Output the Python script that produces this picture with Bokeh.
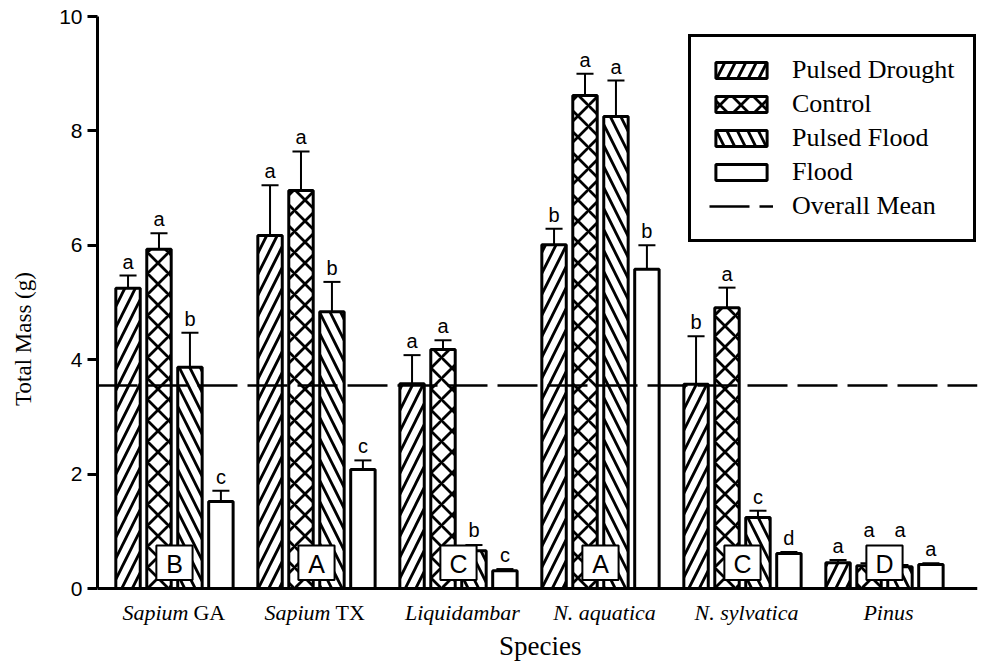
from bokeh.plotting import figure
from bokeh.models import Range1d, Legend, LegendItem, ColumnDataSource, FixedTicker, Span
from bokeh.core.properties import value
from bokeh.embed import file_html
from bokeh.resources import INLINE

# ---------------- data ----------------
species_italic = ["Sapium", "Sapium", "Liquidambar", "N. aquatica", "N. sylvatica", "Pinus"]
species_roman = ["GA", "TX", "", "", "", ""]
treatments = ["Pulsed Drought", "Control", "Pulsed Flood", "Flood"]

pulsed_drought = [5.25, 6.17, 3.58, 6.01, 3.57, 0.45]
pulsed_drought_se = [0.22, 0.88, 0.50, 0.28, 0.84, 0.05]
control = [5.93, 6.96, 4.18, 8.62, 4.91, 0.40]
control_se = [0.28, 0.68, 0.16, 0.38, 0.35, 0.04]
pulsed_flood = [3.87, 4.84, 0.66, 8.25, 1.24, 0.38]
pulsed_flood_se = [0.60, 0.52, 0.10, 0.63, 0.12, 0.03]
flood = [1.52, 2.08, 0.31, 5.58, 0.61, 0.42]
flood_se = [0.19, 0.16, 0.03, 0.42, 0.03, 0.02]

letters_pulsed_drought = ["a", "a", "a", "b", "b", "a"]
letters_control = ["a", "a", "a", "a", "a", "a"]
letters_pulsed_flood = ["b", "b", "b", "a", "c", "a"]
letters_flood = ["c", "c", "c", "b", "d", "a"]

species_groups = ["B", "A", "C", "A", "C", "D"]
overall_mean = 3.55

y_ticks = [0, 2, 4, 6, 8, 10]
x_title = "Species"
y_title = "Total Mass (g)"

# ---------------- styling ----------------
X_START, X_END = -0.542, 5.655
Y_START, Y_END = -1.276, 10
offsets = [-0.327, -0.109, 0.109, 0.327]
bar_w = 0.172
hatches = ["/", "x", "\\", " "]
box_y, box_h = 0.45, 0.60
SERIF = "Liberation Serif"
SANS = "Liberation Sans"

p = figure(width=980, height=661, output_backend="svg", toolbar_location=None,
           x_range=Range1d(X_START, X_END), y_range=Range1d(Y_START, Y_END),
           x_axis_location=None,
           min_border_left=97, min_border_right=3, min_border_top=16, min_border_bottom=0)
p.title = None
p.outline_line_color = None
p.xgrid.visible = False
p.ygrid.visible = False
p.background_fill_color = "white"
p.border_fill_color = "white"

values = [pulsed_drought, control, pulsed_flood, flood]
ses = [pulsed_drought_se, control_se, pulsed_flood_se, flood_se]
letters = [letters_pulsed_drought, letters_control, letters_pulsed_flood, letters_flood]

bar_renderers = []
for k in range(4):
    xs = [i + offsets[k] for i in range(len(values[k]))]
    src = ColumnDataSource(dict(x=xs, top=values[k]))
    r = p.vbar(x="x", top="top", bottom=0, width=bar_w, source=src,
               fill_color="white", line_color="black", line_width=3,
               hatch_pattern=hatches[k], hatch_color="black",
               hatch_weight=2.8, hatch_scale=21)
    bar_renderers.append(r)

# error bars and significance letters
for k in range(4):
    xs = [i + offsets[k] for i in range(len(values[k]))]
    tops = [v + s for v, s in zip(values[k], ses[k])]
    p.segment(x0=xs, y0=values[k], x1=xs, y1=tops, line_color="black", line_width=2)
    p.segment(x0=[x - 0.06 for x in xs], y0=tops, x1=[x + 0.06 for x in xs], y1=tops,
              line_color="black", line_width=2)
    if k in (1, 2):
        ly = [max(t, box_y + box_h / 2 + 0.02) for t in tops]
    else:
        ly = tops
    p.text(x=xs, y=ly, text=letters[k], y_offset=-3,
           text_align="center", text_baseline="bottom",
           text_font=value(SANS), text_font_size="20px", text_color="black")

# overall mean
mean_r = p.line(x=[X_START, X_END], y=[overall_mean, overall_mean], line_color="black",
                line_width=2.5, line_dash="40 10")

# x axis line at zero
p.add_layout(Span(location=0, dimension="width", line_color="black", line_width=3))

# species group letters in boxes
gx = list(range(len(species_groups)))
p.rect(x=gx, y=[box_y] * len(gx), width=0.255, height=box_h,
       fill_color="white", line_color="black", line_width=2)
p.text(x=gx, y=[box_y] * len(gx), text=species_groups,
       text_align="center", text_baseline="middle", y_offset=1,
       text_font=value(SANS), text_font_size="25px", text_color="black")

# species tick labels (italic genus, roman suffix)
lab_y = -0.42
two_i = [i for i in range(len(species_italic)) if species_roman[i]]
one_i = [i for i in range(len(species_italic)) if not species_roman[i]]
p.text(x=two_i, y=[lab_y] * len(two_i), text=[species_italic[i] for i in two_i],
       x_offset=14, text_align="right", text_baseline="middle", text_color="black",
       text_font=value(SERIF), text_font_style="italic", text_font_size="22px")
p.text(x=two_i, y=[lab_y] * len(two_i), text=[species_roman[i] for i in two_i],
       x_offset=19, text_align="left", text_baseline="middle", text_color="black",
       text_font=value(SERIF), text_font_size="22px")
p.text(x=one_i, y=[lab_y] * len(one_i), text=[species_italic[i] for i in one_i],
       x_offset=4, text_align="center", text_baseline="middle", text_color="black",
       text_font=value(SERIF), text_font_style="italic", text_font_size="22px")
p.text(x=[(X_START + X_END) / 2 + 0.02], y=[-1.0], text=[x_title],
       text_align="center", text_baseline="middle", text_color="black",
       text_font=value(SERIF), text_font_size="27px")

# y axis
p.yaxis.bounds = (0, 10)
p.yaxis.ticker = FixedTicker(ticks=y_ticks)
p.yaxis.axis_line_width = 3
p.yaxis.axis_line_color = "black"
p.yaxis.major_tick_line_width = 3
p.yaxis.major_tick_line_color = "black"
p.yaxis.major_tick_out = 10
p.yaxis.major_tick_in = 0
p.yaxis.minor_tick_line_color = None
p.yaxis.major_label_text_font = SANS
p.yaxis.major_label_text_font_size = "21px"
p.yaxis.major_label_text_color = "black"
p.yaxis.major_label_standoff = 5
p.yaxis.axis_label = y_title
p.yaxis.axis_label_text_font = SERIF
p.yaxis.axis_label_text_font_style = "normal"
p.yaxis.axis_label_text_font_size = "23px"
p.yaxis.axis_label_text_color = "black"
p.yaxis.axis_label_standoff = 20

legend = Legend(items=[LegendItem(label=treatments[k], renderers=[bar_renderers[k]]) for k in range(4)]
                + [LegendItem(label="Overall Mean", renderers=[mean_r])],
                location=(591, 419),
                glyph_width=64, glyph_height=20, label_height=26, spacing=4,
                padding=18, label_standoff=19, margin=0,
                label_text_font=SERIF, label_text_font_size="26px", label_text_color="black",
                border_line_color="black", border_line_width=3, border_line_alpha=1,
                background_fill_color="white", background_fill_alpha=1)
p.add_layout(legend)

open("out.html", "w").write(file_html(p, INLINE))
